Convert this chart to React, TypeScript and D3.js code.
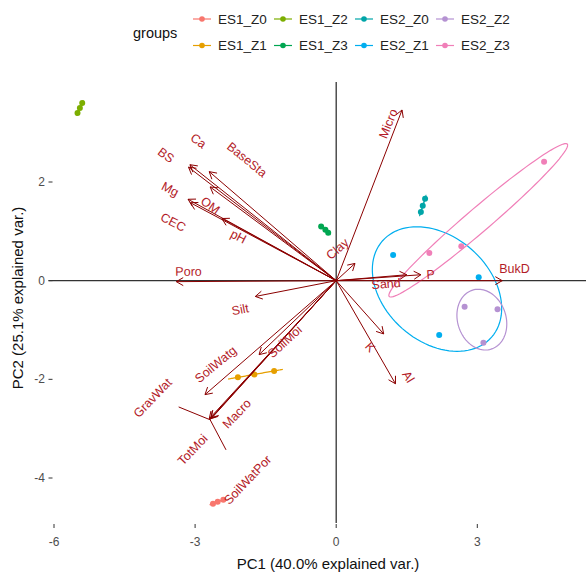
import React from 'react';
import * as d3 from 'd3';

// groups and their colours
const groups = ['ES1_Z0', 'ES1_Z1', 'ES1_Z2', 'ES1_Z3', 'ES2_Z0', 'ES2_Z1', 'ES2_Z2', 'ES2_Z3'];
const groupColors = ['#F8766D', '#E69F00', '#7CAE00', '#00A651', '#00A5A8', '#00AEEF', '#B592D2', '#F07FB8'];

// PCA scores, one list per group: [PC1, PC2]
const scoresES1_Z0 = [[-2.62, -4.52], [-2.52, -4.48], [-2.40, -4.44]];
const scoresES1_Z1 = [[-2.09, -1.96], [-1.74, -1.90], [-1.32, -1.83]];
const scoresES1_Z2 = [[-5.40, 3.60], [-5.45, 3.50], [-5.50, 3.40]];
const scoresES1_Z3 = [[-0.32, 1.10], [-0.23, 1.03], [-0.17, 0.97]];
const scoresES2_Z0 = [[1.89, 1.66], [1.84, 1.52], [1.80, 1.39]];
const scoresES2_Z1 = [[1.21, 0.52], [3.03, 0.07], [2.19, -1.10]];
const scoresES2_Z2 = [[2.73, -0.53], [3.43, -0.58], [3.13, -1.26]];
const scoresES2_Z3 = [[4.42, 2.41], [2.66, 0.70], [1.98, 0.56]];
const groupScores = [scoresES1_Z0, scoresES1_Z1, scoresES1_Z2, scoresES1_Z3,
  scoresES2_Z0, scoresES2_Z1, scoresES2_Z2, scoresES2_Z3];

// variable loadings (arrow tips) and where their labels sit
const varNames = ['Ca', 'BS', 'BaseSta', 'Mg', 'OM', 'CEC', 'pH', 'Poro', 'Silt', 'SoilWatg', 'SoilMoi',
  'GravWat', 'TotMoi', 'Macro', 'SoilWatPor', 'Micro', 'Clay', 'Sand', 'P', 'BukD', 'K', 'Al'];
const varPC1 = [-3.11, -3.14, -2.70, -3.15, -2.68, -3.10, -2.43, -3.40, -1.72, -2.79, -1.64,
  -2.70, -2.68, -2.66, -2.67, 1.40, 0.40, 1.50, 1.80, 3.53, 1.01, 1.26];
const varPC2 = [2.35, 2.30, 2.21, 1.65, 1.90, 1.58, 1.26, -0.02, -0.32, -2.31, -1.50,
  -2.80, -2.82, -2.78, -2.80, 3.46, 0.35, 0.12, 0.12, 0.00, -1.08, -2.09];
const labelPC1 = [-2.93, -3.62, -1.90, -3.53, -2.68, -3.47, -2.08, -3.14, -2.04, -2.56, -1.09,
  -3.90, -3.05, -2.11, -1.88, 1.11, 0.03, 1.06, 2.01, 3.79, 0.72, 1.53];
const labelPC2 = [2.83, 2.54, 2.45, 1.85, 1.52, 1.18, 0.89, 0.18, -0.59, -1.70, -1.24,
  -2.38, -3.43, -2.70, -4.04, 3.18, 0.64, -0.07, 0.12, 0.24, -1.35, -1.95];

const xTicks = [-6, -3, 0, 3];
const yTicks = [2, 0, -2, -4];

export default function App() {
  const W = 586, H = 572;
  const panel = {l: 52.5, r: 586, t: 82, b: 524};
  const x = d3.scaleLinear().domain([-6, 3]).range([54, 477.3]);
  const y = d3.scaleLinear().domain([-4, 2]).range([478, 182]);
  const font = 'Liberation Sans, Arial, sans-serif';
  const red = '#8B0000';
  const labelRed = '#B31B28';

  // 68% normal data ellipse, like ggbiplot
  const ed = Math.sqrt(-2 * Math.log(1 - 0.68));
  const ellipse = (pts) => {
    const mx = d3.mean(pts, d => d[0]), my = d3.mean(pts, d => d[1]);
    const n = pts.length - 1;
    const a = d3.sum(pts, d => (d[0] - mx) ** 2) / n;
    const c = d3.sum(pts, d => (d[1] - my) ** 2) / n;
    const b = d3.sum(pts, d => (d[0] - mx) * (d[1] - my)) / n;
    const u11 = Math.sqrt(a), u12 = b / u11, u22 = Math.sqrt(Math.max(c - u12 * u12, 0));
    return d3.range(0, 101).map(i => {
      const t = (i / 100) * 2 * Math.PI;
      const cx = Math.cos(t), sy = Math.sin(t);
      return [mx + ed * cx * u11, my + ed * (cx * u12 + sy * u22)];
    });
  };
  const line = d3.line().x(d => x(d[0])).y(d => y(d[1]));

  const arrowHead = (x1, y1, len, ang) => {
    const x0 = x(0), y0 = y(0);
    const dx = x1 - x0, dy = y1 - y0;
    const L = Math.hypot(dx, dy);
    const bx = -dx / L, by = -dy / L;
    const r = ang * Math.PI / 180;
    const w = s => [x1 + len * (bx * Math.cos(s * r) - by * Math.sin(s * r)),
      y1 + len * (bx * Math.sin(s * r) + by * Math.cos(s * r))];
    const p1 = w(1), p2 = w(-1);
    return `M${p1[0]},${p1[1]}L${x1},${y1}L${p2[0]},${p2[1]}`;
  };

  return (
    <div style={{position: 'absolute', left: 0, top: 0}}>
      <svg width={W} height={H} style={{display: 'block', background: '#fff'}} fontFamily={font}>
        {/* zero lines */}
        <line x1={48.5} x2={panel.r} y1={y(0)} y2={y(0)} stroke="#333" strokeWidth={1.3} />
        <line x1={x(0)} x2={x(0)} y1={panel.t} y2={panel.b - 1} stroke="#333" strokeWidth={1.3} />

        {/* axes ticks */}
        {xTicks.map(t => (
          <g key={'xt' + t}>
            <line x1={x(t)} x2={x(t)} y1={panel.b} y2={panel.b + 4} stroke="#333" strokeWidth={1} />
            <text x={x(t)} y={542} textAnchor="middle" dominantBaseline="central" fontSize={12} fill="#4D4D4D">{t}</text>
          </g>
        ))}
        {yTicks.map(t => (
          <g key={'yt' + t}>
            <line x1={48.5} x2={52.5} y1={y(t)} y2={y(t)} stroke="#333" strokeWidth={1} />
            <text x={45} y={y(t)} textAnchor="end" dominantBaseline="central" fontSize={12} fill="#4D4D4D">{t}</text>
          </g>
        ))}
        <text x={328} y={563} textAnchor="middle" dominantBaseline="central" fontSize={15} fill="#111">PC1 (40.0% explained var.)</text>
        <text transform={`translate(17,298) rotate(-90)`} textAnchor="middle" dominantBaseline="central" fontSize={15} fill="#111">PC2 (25.1% explained var.)</text>

        {/* ellipses and points */}
        {groupScores.map((pts, gi) => (
          <g key={groups[gi]}>
            <path d={line(ellipse(pts))} fill="none" stroke={groupColors[gi]} strokeWidth={1.2} />
            {pts.map((p, i) => (
              <circle key={i} cx={x(p[0])} cy={y(p[1])} r={3} fill={groupColors[gi]} />
            ))}
          </g>
        ))}

        {/* variable arrows */}
        {varNames.map((v, i) => {
          const x1 = x(varPC1[i]), y1 = y(varPC2[i]);
          const wide = v === 'TotMoi';
          return (
            <g key={v} stroke={red} fill="none" strokeWidth={1}>
              <line x1={x(0)} y1={y(0)} x2={x1} y2={y1} />
              <path d={arrowHead(x1, y1, wide ? 34 : 8, wide ? 110 : 30)} />
            </g>
          );
        })}
        {varNames.map((v, i) => {
          const ang = -Math.atan(varPC2[i] / varPC1[i]) * 180 / Math.PI;
          const lx = x(labelPC1[i]), ly = y(labelPC2[i]);
          return (
            <text key={'l' + v} transform={`translate(${lx},${ly}) rotate(${ang})`} textAnchor="middle"
              dominantBaseline="central" fontSize={12.5} fill={labelRed}>{v}</text>
          );
        })}

        {/* legend */}
        <text x={133} y={33} dominantBaseline="central" fontSize={14.5} fill="#111">groups</text>
        {groups.map((g, i) => {
          const kx = 193 + Math.floor(i / 2) * 81;
          const ky = i % 2 === 0 ? 19 : 45.5;
          return (
            <g key={'lg' + g}>
              <line x1={kx} x2={kx + 18} y1={ky} y2={ky} stroke={groupColors[i]} strokeWidth={1.2} />
              <circle cx={kx + 9} cy={ky} r={2.8} fill={groupColors[i]} />
              <text x={kx + 25} y={ky} dominantBaseline="central" fontSize={13.5} fill="#222">{g}</text>
            </g>
          );
        })}
      </svg>
    </div>
  );
}
